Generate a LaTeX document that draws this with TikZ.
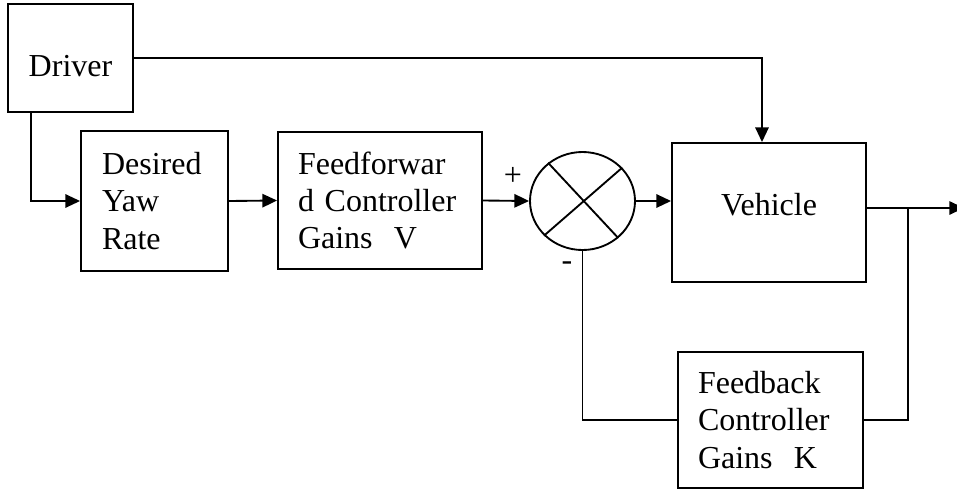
\documentclass[tikz,border=0pt]{standalone}
\usepackage{fontspec}
\setmainfont{Liberation Serif}
\usetikzlibrary{arrows.meta,shapes.geometric,calc}
\begin{document}
\begin{tikzpicture}[x=0.75pt, y=-0.75pt, line width=1.4pt,
        >={Triangle[length=11pt, width=10pt]},
        font=\fontsize{24}{28}\selectfont,
        blk/.style={draw, rectangle, inner ysep=0pt, align=left}]
        \useasboundingbox (0,0) rectangle (957,490);
        % Define blocks
        \node[blk, align=center, minimum width=93.75pt, minimum height=81pt, text height=27pt, text depth=0pt] (drv) at (70.5,58) {Driver};
        \node[blk, inner xsep=15.75pt, text width=78.75pt, minimum height=105pt] (des) at (154.5,201) {Desired\\Yaw\\Rate};
        \node[blk, inner xsep=15pt, text width=123pt, minimum height=102.75pt] (ff) at (380,200.5) {Feedforwar\\d Controller\\Gains\ \ V};
        \node[draw, ellipse, inner sep=0pt, minimum width=78.75pt, minimum height=73.5pt] (sum) at (582.5,201) {};
        \node[blk, align=center, minimum width=145.5pt, minimum height=104.25pt, text height=16pt, text depth=12pt] (veh) at (769,212.5) {Vehicle};
        \node[blk, inner xsep=15pt, text width=108.75pt, minimum height=102pt] (fb) at (770.5,420) {Feedback\\Controller\\Gains\ \ K};
        \node (plus) at (513,176) {+};
        \node (minus) at (567,266) {-};
        \coordinate (out) at (964,208);
        \coordinate (br) at (908,208);
        % Draw summing cross
        \draw (sum.132) -- (sum.-46);
        \draw (sum.40) -- (sum.-138);
        % Draw connectors
        \foreach \a/\b in {des/ff, ff/sum} {
            \draw[->] (\a.east) -- (\b.west);
        }
        \draw[->] (drv.east) -| ($(veh.north)+(-7,0)$);
        \draw[->] ($(drv.south west)+(24,0)$) |- (des.west);
        \draw[->] (sum.east) -- (sum.east -| veh.west);
        \draw[->] (veh.east |- out) -- (out);
        \draw (br) |- (fb.east);
        \draw (fb.west) -| (sum.south);
\end{tikzpicture}
\end{document}
